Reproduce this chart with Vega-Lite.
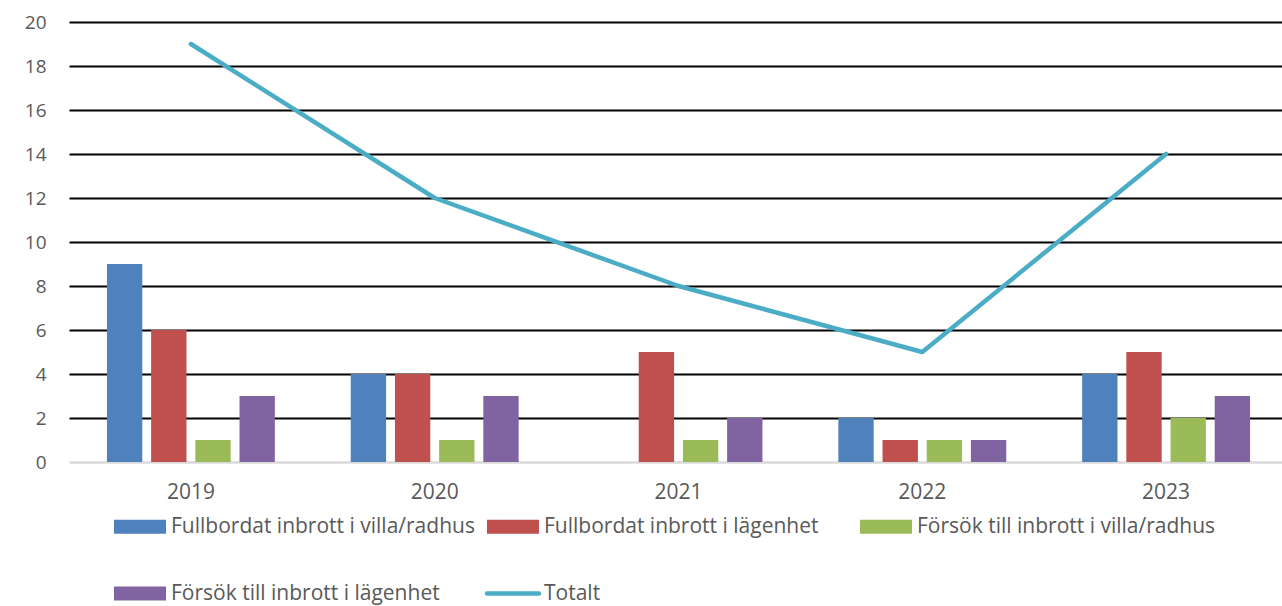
{
  "$schema": "https://vega.github.io/schema/vega-lite/v6.json",
  "autosize": {"type": "none"},
  "width": 1219,
  "height": 440,
  "padding": {"left": 69, "top": 22, "right": -6, "bottom": 144},
  "background": "white",
  "config": {
    "view": {"stroke": null},
    "font": "Open Sans",
    "axis": {"labelColor": "#595959", "ticks": false, "title": null}
  },
  "datasets": {
    "bars": [
      {"year": "2019", "serie": "Fullbordat inbrott i villa/radhus", "value": 9},
      {"year": "2019", "serie": "Fullbordat inbrott i lägenhet", "value": 6},
      {"year": "2019", "serie": "Försök till inbrott i villa/radhus", "value": 1},
      {"year": "2019", "serie": "Försök till inbrott i lägenhet", "value": 3},
      {"year": "2020", "serie": "Fullbordat inbrott i villa/radhus", "value": 4},
      {"year": "2020", "serie": "Fullbordat inbrott i lägenhet", "value": 4},
      {"year": "2020", "serie": "Försök till inbrott i villa/radhus", "value": 1},
      {"year": "2020", "serie": "Försök till inbrott i lägenhet", "value": 3},
      {"year": "2021", "serie": "Fullbordat inbrott i villa/radhus", "value": 0},
      {"year": "2021", "serie": "Fullbordat inbrott i lägenhet", "value": 5},
      {"year": "2021", "serie": "Försök till inbrott i villa/radhus", "value": 1},
      {"year": "2021", "serie": "Försök till inbrott i lägenhet", "value": 2},
      {"year": "2022", "serie": "Fullbordat inbrott i villa/radhus", "value": 2},
      {"year": "2022", "serie": "Fullbordat inbrott i lägenhet", "value": 1},
      {"year": "2022", "serie": "Försök till inbrott i villa/radhus", "value": 1},
      {"year": "2022", "serie": "Försök till inbrott i lägenhet", "value": 1},
      {"year": "2023", "serie": "Fullbordat inbrott i villa/radhus", "value": 4},
      {"year": "2023", "serie": "Fullbordat inbrott i lägenhet", "value": 5},
      {"year": "2023", "serie": "Försök till inbrott i villa/radhus", "value": 2},
      {"year": "2023", "serie": "Försök till inbrott i lägenhet", "value": 3}
    ],
    "total": [
      {"year": "2019", "serie": "Totalt", "value": 19},
      {"year": "2020", "serie": "Totalt", "value": 12},
      {"year": "2021", "serie": "Totalt", "value": 8},
      {"year": "2022", "serie": "Totalt", "value": 5},
      {"year": "2023", "serie": "Totalt", "value": 14}
    ]
  },
  "encoding": {
    "x": {
      "field": "year", "type": "nominal",
      "scale": {"paddingInner": 0.275, "paddingOuter": 0.1375},
      "axis": {"labelAngle": 0, "labelPadding": 19, "labelFontSize": 21, "domainColor": "#D9D9D9", "domainWidth": 2, "grid": false}
    },
    "y": {
      "field": "value", "type": "quantitative",
      "scale": {"domain": [0, 20], "nice": false},
      "axis": {
        "values": [0, 2, 4, 6, 8, 10, 12, 14, 16, 18, 20],
        "domain": false, "labelPadding": 23, "labelFontSize": 19,
        "gridColor": {"condition": {"test": "datum.value === 0", "value": "#D9D9D9"}, "value": "#000000"},
        "gridWidth": 2
      }
    },
    "color": {
      "field": "serie", "type": "nominal",
      "scale": {
        "domain": ["Fullbordat inbrott i villa/radhus", "Fullbordat inbrott i lägenhet", "Försök till inbrott i villa/radhus", "Försök till inbrott i lägenhet", "Totalt"],
        "range": ["#4F81BD", "#C0504D", "#9BBB59", "#8064A2", "#4BACC6"]
      },
      "legend": {
        "title": null,
        "orient": "none",
        "direction": "horizontal",
        "legendX": 45,
        "legendY": 494,
        "padding": 0,
        "columns": 3,
        "gridAlign": "all",
        "columnPadding": 3,
        "rowPadding": 45,
        "symbolSize": 2704,
        "symbolType": "M-1,-0.27H1V0.27H-1Z",
        "labelFontSize": 21,
        "labelColor": "#595959",
        "labelOffset": 6,
        "labelLimit": 500,
        "encode": {
          "symbols": {
            "update": {
              "x": {"value": 26},
              "shape": {"signal": "datum.value === 'Totalt' ? 'M-1,0H1' : 'M-1,-0.27H1V0.27H-1Z'"},
              "fill": {"signal": "datum.value === 'Totalt' ? 'transparent' : scale('color', datum.value)"},
              "stroke": {"signal": "scale('color', datum.value)"},
              "strokeWidth": {"signal": "datum.value === 'Totalt' ? 4.5 : 0"},
              "strokeCap": {"value": "round"},
              "opacity": {"value": 1}
            }
          },
          "labels": {
            "update": {
              "x": {"value": 57}
            }
          }
        }
      }
    }
  },
  "layer": [
    {
      "data": {"name": "bars"},
      "mark": {"type": "bar"},
      "encoding": {
        "xOffset": {
          "field": "serie", "type": "nominal",
          "sort": ["Fullbordat inbrott i villa/radhus", "Fullbordat inbrott i lägenhet", "Försök till inbrott i villa/radhus", "Försök till inbrott i lägenhet"],
          "scale": {"paddingInner": 0.2, "paddingOuter": 0.1}
        }
      }
    },
    {
      "data": {"name": "total"},
      "mark": {"type": "line", "strokeWidth": 4.5, "strokeJoin": "round", "strokeCap": "round"},
      "encoding": {}
    }
  ]
}
